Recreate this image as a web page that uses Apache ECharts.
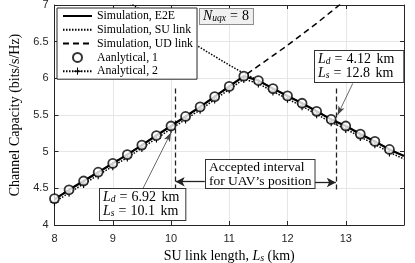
<!DOCTYPE html>
<html><head><meta charset="utf-8">
<script src="https://cdn.jsdelivr.net/npm/echarts@6/dist/echarts.min.js"></script>
<style>html,body{margin:0;padding:0;background:#fff}#c{width:415px;height:263px}</style>
</head><body><div id="c"></div>
<script>
// ---- data ----
const Ls = [8, 8.25, 8.5, 8.75, 9, 9.25, 9.5, 9.75, 10, 10.25, 10.5, 10.75, 11, 11.25, 11.5, 11.75, 12, 12.25, 12.5, 12.75, 13, 13.25, 13.5, 13.75, 14];
const simE2E = [4.35, 4.48, 4.60, 4.72, 4.84, 4.96, 5.09, 5.22, 5.35, 5.48, 5.61, 5.75, 5.89, 6.03, 5.97, 5.86, 5.76, 5.66, 5.55, 5.44, 5.35, 5.24, 5.14, 5.03, 4.94];
const suLs = [9.25, 9.5, 9.75, 10, 10.25, 10.5, 10.75, 11, 11.25, 11.5, 11.75, 12, 12.25, 12.5, 12.75, 13, 13.25, 13.5, 13.75, 14];
const simSU = [7.05, 6.92, 6.79, 6.66, 6.54, 6.42, 6.30, 6.18, 6.07, 5.97, 5.86, 5.76, 5.66, 5.55, 5.44, 5.35, 5.24, 5.14, 5.03, 4.94];
const udLs = [8, 8.25, 8.5, 8.75, 9, 9.25, 9.5, 9.75, 10, 10.25, 10.5, 10.75, 11, 11.25, 11.5, 11.75, 12, 12.25, 12.5, 12.75, 13];
const simUD = [4.35, 4.48, 4.60, 4.72, 4.84, 4.96, 5.09, 5.22, 5.35, 5.48, 5.61, 5.75, 5.89, 6.03, 6.17, 6.31, 6.45, 6.60, 6.75, 6.91, 7.07];
const anLs = [8, 8.25, 8.5, 8.75, 9, 9.25, 9.5, 9.75, 10, 10.25, 10.5, 10.75, 11, 11.25, 11.5, 11.75, 12, 12.25, 12.5, 12.75, 13, 13.25, 13.5, 13.75];
const anal1 = [4.36, 4.48, 4.60, 4.72, 4.84, 4.96, 5.09, 5.22, 5.35, 5.48, 5.61, 5.75, 5.89, 6.03, 5.97, 5.86, 5.76, 5.66, 5.55, 5.44, 5.35, 5.24, 5.14, 5.03];
const an2Ls = [8, 8.25, 8.5, 8.75, 9, 9.25, 9.5, 9.75, 10, 10.25, 10.5, 10.75, 11, 11.25, 11.5, 11.75, 12, 12.25, 12.5, 12.75, 13, 13.25, 13.5, 13.75, 14];
const anal2 = [4.31, 4.44, 4.56, 4.68, 4.80, 4.92, 5.05, 5.18, 5.31, 5.44, 5.57, 5.71, 5.85, 5.99, 5.93, 5.82, 5.72, 5.62, 5.51, 5.40, 5.31, 5.20, 5.10, 4.99, 4.90];
const xTicks = [8, 9, 10, 11, 12, 13];
const yTicks = [4, 4.5, 5, 5.5, 6, 6.5, 7];
// annotation anchors (data coords)
const leftBound = 10.08, rightBound = 12.83;
const seriesNames = ['Simulation, E2E', 'Simulation, SU link', 'Simulation, UD link', 'Aanlytical, 1', 'Analytical, 2'];

const pair = (xs, ys) => xs.map((x, i) => [x, ys[i]]);
const SERIF = 'Liberation Serif';
const plusPath = 'path://M-1,-0.14 L-0.14,-0.14 L-0.14,-1 L0.14,-1 L0.14,-0.14 L1,-0.14 L1,0.14 L0.14,0.14 L0.14,1 L-0.14,1 L-0.14,0.14 L-1,0.14 Z';
const CLEAR = 'rgba(0,0,0,0)';

const chart = echarts.init(document.getElementById('c'), null, {renderer: 'canvas'});
const axCol = '#262626';
const FS = 14;
const rich = {
  n: {fontFamily: SERIF, fontSize: FS, color: '#000', lineHeight: 14},
  k: {fontFamily: SERIF, fontSize: FS, color: '#000', lineHeight: 14, padding: [0, 0, 0, 2]},
  e: {fontFamily: SERIF, fontSize: FS, color: '#000', lineHeight: 14, padding: [0, 4, 0, 4]},
  i: {fontFamily: SERIF, fontSize: FS, fontStyle: 'italic', color: '#000', lineHeight: 14},
  s: {fontFamily: SERIF, fontSize: 9.5, fontStyle: 'italic', color: '#000', padding: [5, 0, 0, 0], lineHeight: 14}
};
const an2Data = pair(an2Ls, anal2).map((p, i) => i === an2Ls.length - 1 ? {value: p, symbol: 'none'} : p);
const option = {
  animation: false,
  grid: {left: 54.5, right: 11, top: 5, bottom: 38, outerBoundsMode: 'none', containLabel: false},
  xAxis: [{
    type: 'value', min: 8, max: 14, interval: 1,
    axisLine: {lineStyle: {color: axCol, width: 1}},
    axisTick: {inside: true, length: 4, lineStyle: {color: axCol}},
    axisLabel: {fontFamily: 'Liberation Sans', fontSize: 11, color: axCol, margin: 8,
      formatter: v => xTicks.indexOf(v) >= 0 ? String(v) : ''},
    splitLine: {show: true, lineStyle: {color: '#e6e6e6', width: 1}},
    name: '{n|SU link length, }{i|L}{s|s}{n| (km)}',
    nameLocation: 'middle', nameGap: 22,
    nameTextStyle: {fontFamily: SERIF, fontSize: 14, rich: {
      n: {fontFamily: SERIF, fontSize: 14, color: '#000'},
      i: {fontFamily: SERIF, fontSize: 14, fontStyle: 'italic', color: '#000'},
      s: {fontFamily: SERIF, fontSize: 10, fontStyle: 'italic', color: '#000', padding: [5, 0, 0, 0]}
    }}
  }, {
    type: 'value', min: 8, max: 14, interval: 1, position: 'top',
    axisLine: {lineStyle: {color: axCol, width: 1}},
    axisTick: {inside: true, length: 4, lineStyle: {color: axCol}},
    axisLabel: {show: false}, splitLine: {show: false}
  }],
  yAxis: [{
    type: 'value', min: 4, max: 7, interval: 0.5,
    axisLine: {show: true, lineStyle: {color: axCol, width: 1}},
    axisTick: {show: true, inside: true, length: 4, lineStyle: {color: axCol}},
    axisLabel: {fontFamily: 'Liberation Sans', fontSize: 11, color: axCol, margin: 6,
      formatter: v => yTicks.indexOf(v) >= 0 ? String(v) : ''},
    splitLine: {show: true, lineStyle: {color: '#e6e6e6', width: 1}},
    name: 'Channel Capacity (bits/s/Hz)', nameLocation: 'middle', nameGap: 24,
    nameTextStyle: {fontFamily: SERIF, fontSize: 14, color: '#000'}
  }, {
    type: 'value', min: 4, max: 7, interval: 0.5, position: 'right',
    axisLine: {show: true, lineStyle: {color: axCol, width: 1}},
    axisTick: {show: true, inside: true, length: 4, lineStyle: {color: axCol}},
    axisLabel: {show: false}, splitLine: {show: false}
  }],
  legend: {
    orient: 'vertical', left: 57, top: 8,
    itemWidth: 29, itemHeight: 9, itemGap: 1.8,
    padding: [2, 4, 2, 5],
    backgroundColor: '#fff', borderColor: axCol, borderWidth: 1,
    textStyle: {fontFamily: SERIF, fontSize: 11.8, color: '#000', lineHeight: 9},
    data: seriesNames
  },
  series: [
    {name: seriesNames[1], type: 'line', data: pair(suLs, simSU), symbol: 'none', clip: true,
      itemStyle: {color: CLEAR},
      lineStyle: {color: '#000', width: 1.5, type: [1.5, 1.5]}, z: 2},
    {name: seriesNames[2], type: 'line', data: pair(udLs, simUD), symbol: 'none', clip: true,
      itemStyle: {color: CLEAR},
      lineStyle: {color: '#000', width: 1.5, type: [6, 4]}, z: 2},
    {name: seriesNames[4], type: 'line', data: an2Data, symbol: plusPath, symbolSize: 8, showSymbol: true, clip: true,
      itemStyle: {color: '#000'},
      lineStyle: {color: '#000', width: 1.5, type: [1.5, 1.5]}, z: 3},
    {name: seriesNames[0], type: 'line', data: pair(Ls, simE2E), symbol: 'none', clip: true,
      itemStyle: {color: CLEAR},
      lineStyle: {color: '#000', width: 2.2}, z: 5,
      markLine: {
        silent: true, animation: false, symbol: ['none', 'none'], label: {show: false},
        data: [
          [{coord: [leftBound, 5.86], lineStyle: {color: '#222', width: 1.3, type: [5, 3]}}, {coord: [leftBound, 4.50]}],
          [{coord: [rightBound, 5.86], lineStyle: {color: '#222', width: 1.3, type: [5, 3]}}, {coord: [rightBound, 4.48]}],
          [{coord: [9.52, 4.50], lineStyle: {color: '#444', width: 0.8, type: 'solid'}}, {coord: [10.0, 5.26], symbol: 'arrow', symbolSize: [5, 9]}],
          [{coord: [13.12, 5.93], lineStyle: {color: '#444', width: 0.8, type: 'solid'}}, {coord: [12.86, 5.50], symbol: 'arrow', symbolSize: [5, 9]}],
          [{coord: [10.58, 4.59], lineStyle: {color: '#222', width: 1.3, type: 'solid'}}, {coord: [leftBound, 4.59], symbol: 'arrow', symbolSize: [7, 9]}],
          [{coord: [12.46, 4.58], lineStyle: {color: '#222', width: 1.3, type: 'solid'}}, {coord: [rightBound, 4.58], symbol: 'arrow', symbolSize: [7, 9]}]
        ]
      }},
    {name: seriesNames[3], type: 'scatter', data: pair(anLs, anal1), symbol: 'circle', symbolSize: 9,
      itemStyle: {color: '#fff', borderColor: '#000', borderWidth: 1.8}, z: 6}
  ],
  graphic: [
    {type: 'text', left: 199, top: 8, z: 20, style: {
      text: '{i|N}{s|uqx}{e|=}{n|8}', rich: rich,
      backgroundColor: '#f0f0f0', borderColor: '#8c8c8c', borderWidth: 1, padding: [0, 4, 1, 3]}},
    {type: 'text', left: 314, top: 50, z: 20, style: {
      text: '{i|L}{s|d}{e|=}{n|4.12}{k| km}\n{i|L}{s|s}{e|=}{n|12.8}{k| km}', rich: rich,
      backgroundColor: '#fff', borderColor: '#333', borderWidth: 1, padding: [1, 9, 2, 3]}},
    {type: 'text', left: 99, top: 188, z: 20, style: {
      text: '{i|L}{s|d}{e|=}{n|6.92}{k| km}\n{i|L}{s|s}{e|=}{n|10.1}{k| km}', rich: rich,
      backgroundColor: '#fff', borderColor: '#333', borderWidth: 1, padding: [1, 6, 2, 3]}},
    {type: 'text', left: 205, top: 159, z: 20, style: {
      text: 'Accepted interval\nfor UAV\u2019s position', font: '13.5px "Liberation Serif"', fill: '#000',
      align: 'center', lineHeight: 14,
      backgroundColor: '#fff', borderColor: '#333', borderWidth: 1, padding: [0, 3, 0, 3]}}
  ]
};
chart.setOption(option);
</script></body></html>
